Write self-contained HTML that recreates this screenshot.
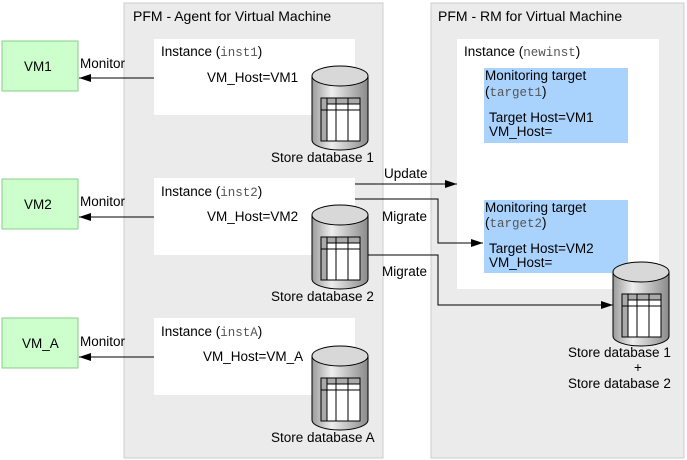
<!DOCTYPE html>
<html><head><style>body{margin:0;background:#fff}svg{display:block;font-family:"Liberation Sans",sans-serif;font-size:13.5px}</style></head><body>
<svg width="687" height="460" viewBox="0 0 687 460">
<defs>
<linearGradient id="cg" x1="0" x2="1"><stop offset="0" stop-color="#9a9a9a"/><stop offset="0.35" stop-color="#eeeeee"/><stop offset="1" stop-color="#8a8a8a"/></linearGradient>
<marker id="ah" markerWidth="12" markerHeight="8" refX="12" refY="4" orient="auto" markerUnits="userSpaceOnUse"><path d="M0,0 L12,4 L0,8 z" fill="#000"/></marker>
<g id="cyl">
<path d="M0,10 L0,74 A28,10 0 0 0 56,74 L56,10" fill="url(#cg)" stroke="#000"/>
<ellipse cx="28" cy="10" rx="28" ry="10" fill="#d8d8d8" stroke="#000"/>
<rect x="9" y="32" width="39" height="43" fill="#fff" stroke="#000"/>
<rect x="9" y="32" width="39" height="6" fill="#aaa" stroke="#000"/>
<rect x="9" y="32" width="6" height="43" fill="#aaa" stroke="#000"/>
<line x1="9" y1="44" x2="48" y2="44" stroke="#000"/>
<line x1="24" y1="32" x2="24" y2="75" stroke="#000"/><line x1="36" y1="32" x2="36" y2="75" stroke="#000"/>
</g>
</defs>
<rect x="124" y="3" width="259" height="455" fill="#ebebeb" stroke="#ccc"/>
<rect x="431" y="3" width="253" height="455" fill="#ebebeb" stroke="#ccc"/>
<text x="133" y="21" font-size="14">PFM - Agent for Virtual Machine</text>
<text x="438" y="21" font-size="14">PFM - RM for Virtual Machine</text>
<rect x="2" y="41" width="76" height="50" fill="#ccffcc" stroke="#8c8"/>
<rect x="2" y="179" width="76" height="50" fill="#ccffcc" stroke="#8c8"/>
<rect x="2" y="318" width="76" height="50" fill="#ccffcc" stroke="#8c8"/>
<text x="24" y="71">VM1</text><text x="24" y="209">VM2</text><text x="22" y="348">VM_A</text>
<rect x="154" y="39" width="201" height="76" fill="#fff"/>
<rect x="154" y="178" width="201" height="77" fill="#fff"/>
<rect x="154" y="318" width="201" height="77" fill="#fff"/>
<rect x="457" y="39" width="202" height="250" fill="#fff"/>
<rect x="484" y="68" width="144" height="75" fill="#a9d3fd"/>
<rect x="484" y="200" width="144" height="73" fill="#a9d3fd"/>
<g>
<text x="161" y="56">Instance (<tspan font-family="Liberation Mono" font-size="12.5" fill="#555">inst1</tspan>)</text>
<text x="207" y="82">VM_Host=VM1</text>
<text x="161" y="196">Instance (<tspan font-family="Liberation Mono" font-size="12.5" fill="#555">inst2</tspan>)</text>
<text x="207" y="221">VM_Host=VM2</text>
<text x="161" y="336">Instance (<tspan font-family="Liberation Mono" font-size="12.5" fill="#555">instA</tspan>)</text>
<text x="203" y="361">VM_Host=VM_A</text>
<text x="464" y="56">Instance (<tspan font-family="Liberation Mono" font-size="12.5" fill="#555">newinst</tspan>)</text>
<text x="485" y="80">Monitoring target</text>
<text x="485" y="96">(<tspan font-family="Liberation Mono" font-size="12.5" fill="#555">target1</tspan>)</text>
<text x="489" y="122">Target Host=VM1</text><text x="489" y="136">VM_Host=</text>
<text x="485" y="212">Monitoring target</text>
<text x="485" y="227">(<tspan font-family="Liberation Mono" font-size="12.5" fill="#555">target2</tspan>)</text>
<text x="489" y="253">Target Host=VM2</text><text x="489" y="267">VM_Host=</text>
</g>
<use href="#cyl" x="312" y="66"/>
<use href="#cyl" x="312" y="205"/>
<use href="#cyl" x="312" y="346"/>
<use href="#cyl" x="613" y="262"/>
<text x="271" y="162">Store database 1</text>
<text x="271" y="301">Store database 2</text>
<text x="271" y="442">Store database A</text>
<text x="568" y="357">Store database 1</text>
<text x="634" y="372">+</text>
<text x="568" y="388">Store database 2</text>
<g stroke="#000" fill="none">
<line x1="154" y1="78" x2="79" y2="78" marker-end="url(#ah)"/>
<line x1="154" y1="217" x2="79" y2="217" marker-end="url(#ah)"/>
<line x1="154" y1="357" x2="79" y2="357" marker-end="url(#ah)"/>
<line x1="355" y1="184" x2="457" y2="184" marker-end="url(#ah)"/>
<polyline points="355,199 438,199 438,243 483,243" marker-end="url(#ah)"/>
<polyline points="368,255 438,255 438,305 613,305" marker-end="url(#ah)"/>
</g>
<text x="80" y="68">Monitor</text><text x="80" y="206">Monitor</text><text x="80" y="346">Monitor</text>
<text x="384" y="178">Update</text>
<text x="382" y="221">Migrate</text>
<text x="382" y="276">Migrate</text>
</svg>
</body></html>
